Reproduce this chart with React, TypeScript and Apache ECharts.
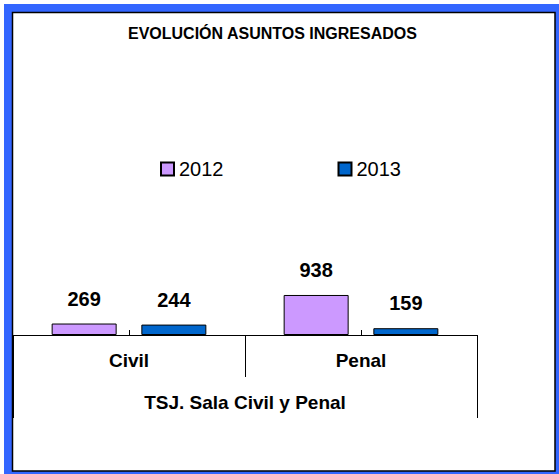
import React, { useEffect, useRef } from "react";
import * as echarts from "echarts";

const title = "EVOLUCIÓN ASUNTOS INGRESADOS";
const categories = ["Civil", "Penal"];
const groupLabel = ["TSJ. Sala Civil y Penal"];
const seriesNames = ["2012", "2013"];
const values2012 = [269, 938];
const values2013 = [244, 159];
const colors = ["#CC99FF", "#0066CC"];

const FONT = "'Liberation Sans', Arial, sans-serif";

export default function App() {
  const ref = useRef<HTMLDivElement>(null);
  useEffect(() => {
    if (!ref.current) return;
    const chart = echarts.init(ref.current, null, { renderer: "svg" });
    const label = {
      show: true,
      position: "top",
      distance: 15,
      fontFamily: FONT,
      fontSize: 20,
      fontWeight: "bold",
      color: "#000",
    };
    chart.setOption({
      animation: false,
      backgroundColor: "#fff",
      textStyle: { fontFamily: FONT },
      graphic: [
        {
          type: "rect",
          z: -10,
          silent: true,
          shape: { x: 4, y: 4, width: 555, height: 470 },
          style: { fill: "#3366FF" },
        },
        {
          type: "rect",
          z: -9,
          silent: true,
          shape: { x: 12.5, y: 12.5, width: 542.5, height: 458.5 },
          style: { fill: "#ffffff", stroke: "#000", lineWidth: 1.5 },
        },
      ],
      title: {
        text: title,
        left: 128,
        top: 25,
        padding: 0,
        textStyle: {
          fontFamily: FONT,
          fontSize: 16,
          fontWeight: "bold",
          color: "#000",
        },
      },
      legend: {
        data: seriesNames,
        left: 160,
        top: 159,
        padding: 0,
        icon: "rect",
        itemWidth: 13,
        itemHeight: 13,
        itemGap: 114,
        textStyle: { fontFamily: FONT, fontSize: 20, color: "#000" },
      },
      grid: { left: 13, right: 82, top: 79, bottom: 139, containLabel: false },
      xAxis: [
        {
          type: "category",
          data: categories,
          position: "bottom",
          axisLine: { show: true, lineStyle: { color: "#000", width: 1 } },
          axisTick: { show: true, length: 42, lineStyle: { color: "#000", width: 1 } },
          axisLabel: {
            margin: 16,
            fontFamily: FONT,
            fontSize: 19,
            fontWeight: "bold",
            color: "#000",
          },
          splitLine: { show: false },
        },
        {
          type: "category",
          data: groupLabel,
          position: "bottom",
          axisLine: { show: false },
          axisTick: { show: true, length: 83, lineStyle: { color: "#000", width: 1 } },
          axisLabel: {
            margin: 58,
            fontFamily: FONT,
            fontSize: 19,
            fontWeight: "bold",
            color: "#000",
          },
          splitLine: { show: false },
        },
        {
          type: "category",
          data: categories,
          position: "bottom",
          axisLine: { show: false },
          axisTick: {
            show: true,
            alignWithLabel: true,
            inside: true,
            length: 5,
            lineStyle: { color: "#000", width: 1 },
          },
          axisLabel: { show: false },
          splitLine: { show: false },
        },
      ],
      yAxis: {
        type: "value",
        min: 0,
        max: 6000,
        show: false,
        splitLine: { show: false },
      },
      series: [
        {
          name: seriesNames[0],
          type: "bar",
          xAxisIndex: 0,
          data: values2012,
          barWidth: 65,
          barGap: "38%",
          itemStyle: { color: colors[0], borderColor: "#000", borderWidth: 1 },
          label,
        },
        {
          name: seriesNames[1],
          type: "bar",
          xAxisIndex: 0,
          data: values2013,
          barWidth: 65,
          barGap: "38%",
          itemStyle: { color: colors[1], borderColor: "#000", borderWidth: 1 },
          label,
        },
      ],
    });
    return () => chart.dispose();
  }, []);
  return (
    <div
      ref={ref}
      style={{ position: "fixed", left: 0, top: 0, width: 559, height: 474 }}
    />
  );
}
